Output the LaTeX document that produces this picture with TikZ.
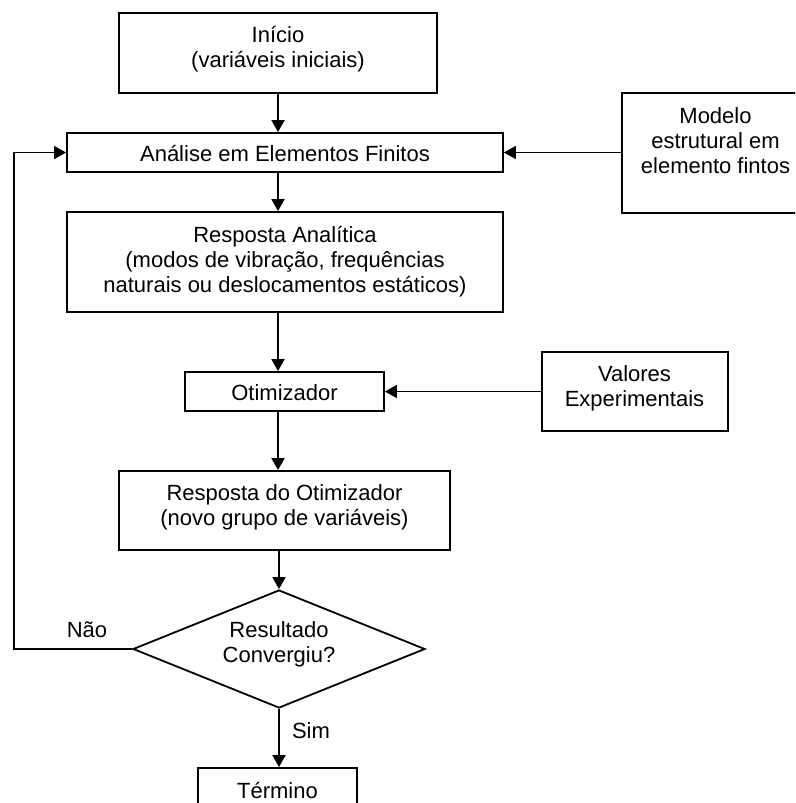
\documentclass[tikz,border=0pt]{standalone}
\usepackage{fontspec}
\setmainfont{Liberation Sans}
\usetikzlibrary{arrows.meta,shapes.geometric}
\begin{document}
\begin{tikzpicture}[x=1pt,y=-1pt,
  box/.style={draw, line width=1.8pt, inner sep=0pt},
  txt/.style={align=center, font=\fontsize{22}{25}\selectfont, inner sep=0pt},
  arr/.style={line width=1.8pt, -{Triangle[width=13pt,length=12pt]}}]
\clip (0,0) rectangle (795,803);
% boxes
\node[box, minimum width=318pt, minimum height=80pt] (ini) at (278,53) {};
\node[txt] (iniT) at (278,49.5) {Início\\(variáveis iniciais)};
\node[box, minimum width=436pt, minimum height=39pt] (ana) at (285,152.5) {};
\node[txt] (anaT) at (285,154) {Análise em Elementos Finitos};
\node[box, minimum width=436pt, minimum height=100pt] (resp) at (285,262) {};
\node[txt] (respT) at (285,261.5) {Resposta Analítica\\(modos de vibração, frequências\\naturais ou deslocamentos estáticos)};
\node[box, minimum width=199pt, minimum height=39pt] (otim) at (284.5,391.5) {};
\node[txt] (otimT) at (284.5,393) {Otimizador};
\node[box, minimum width=331pt, minimum height=79pt] (rotim) at (284.5,510.5) {};
\node[txt] (rotimT) at (284.5,507) {Resposta do Otimizador\\(novo grupo de variáveis)};
\node[draw, diamond, line width=1.8pt, minimum width=292pt, minimum height=118pt, inner sep=0pt] (dia) at (279,649) {};
\node[txt] (diaT) at (279,644) {Resultado\\Convergiu?};
\node[box, minimum width=159pt, minimum height=44pt] (term) at (277.5,790) {};
\node[txt] (termT) at (277.5,790) {Término};
\node[box, minimum width=187pt, minimum height=120pt] (mod) at (715.5,153) {};
\node[txt] (modT) at (715.5,140.5) {Modelo\\estrutural em\\elemento fintos};
\node[box, minimum width=186pt, minimum height=79pt] (val) at (635,391.5) {};
\node[txt] (valT) at (634.5,388.5) {Valores\\Experimentais};
% labels
\node[txt] (nao) at (87,630) {Não};
\node[txt] (sim) at (311,730.5) {Sim};
% connectors
\draw[arr] (ini.south) -- (ana.north -| ini.south);
\draw[arr] (ana.south -| ini.south) -- (resp.north -| ini.south);
\draw[arr] (resp.south -| ini.south) -- (otim.north -| ini.south);
\draw[arr] (otim.south -| ini.south) -- (rotim.north -| ini.south);
\draw[arr] (rotim.south -| dia.north) -- (dia.north);
\draw[arr] (dia.south) -- (term.north -| dia.south);
\draw[arr] (mod.west |- ana.east) -- (ana.east);
\draw[arr] (val.west) -- (otim.east);
\coordinate (lp) at (14,649);
\draw[arr] (dia.west) -- (lp) -- (lp |- ana.west) -- (ana.west);
\end{tikzpicture}
\end{document}
